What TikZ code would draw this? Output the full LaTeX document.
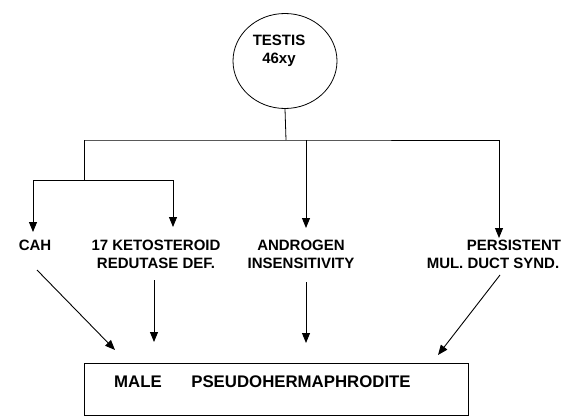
\documentclass[tikz,border=0pt]{standalone}
\usepackage{fontspec}
\setmainfont{Liberation Sans}
\usetikzlibrary{arrows.meta,shapes.geometric}
\begin{document}
\begin{tikzpicture}[x=1pt,y=-1pt,
  lbl/.style={inner sep=0pt, font=\fontsize{15}{18}\selectfont\bfseries, align=center},
  big/.style={inner sep=0pt, font=\fontsize{16.8}{18}\selectfont\bfseries},
  conn/.style={line width=0.8pt},
  arr/.style={line width=0.9pt,-{Triangle[length=10pt,width=8pt]}},
]
\useasboundingbox (0,0) rectangle (575,417);
% top
\node[ellipse, draw, conn, minimum width=104pt, minimum height=95pt, inner sep=0pt] (testis) at (285,61) {};
\node[lbl] (tlbl) at (279,51) {TESTIS\\46xy};
\coordinate (hub) at (286,140);
\coordinate (hl) at (84,140);
\coordinate (ha) at (306,140);
\coordinate (hr) at (499,140);
\coordinate (sub) at (84,180);
\coordinate (cahtip) at (33,232);
\coordinate (ketotip) at (173,227);
\coordinate (androtip) at (306,228);
\coordinate (perstip) at (499,238);
\draw[conn] (testis.south) -- (hub);
\draw[conn] (hl) -- (hub) -- (hr);
\draw[conn] (hl) -- (sub);
\draw[arr] (sub) -| (cahtip);
\draw[arr] (sub) -| (ketotip);
\draw[arr] (ha) -- (androtip);
\draw[arr] (hr) -- (perstip);
% labels
\node[lbl] (cah) at (35,245) {CAH};
\node[lbl] (keto) at (156,254) {17 KETOSTEROID\\REDUTASE DEF.};
\node[lbl] (andro) at (301,254) {ANDROGEN\\INSENSITIVITY};
\node[lbl] (pers) at (514,245) {PERSISTENT};
\node[lbl] (persb) at (493,263) {MUL. DUCT SYND.};
% bottom box
\node[draw, conn, minimum width=384pt, minimum height=52pt, inner sep=0pt] (mph) at (276,389) {};
\node[big] (male) at (138,382) {MALE};
\node[big] (pseudo) at (301,382) {PSEUDOHERMAPHRODITE};
% bottom arrows
\coordinate (cahbot) at (37,270);
\coordinate (ketobot) at (154,280);
\coordinate (androbot) at (306,282);
\coordinate (persbot) at (500,275);
\coordinate (m1) at (115,350);
\coordinate (m2) at (154,342);
\coordinate (m3) at (306,343);
\coordinate (m4) at (438,355);
\draw[arr] (cahbot) -- (m1);
\draw[arr] (ketobot) -- (m2);
\draw[arr] (androbot) -- (m3);
\draw[arr] (persbot) -- (m4);
\end{tikzpicture}
\end{document}
